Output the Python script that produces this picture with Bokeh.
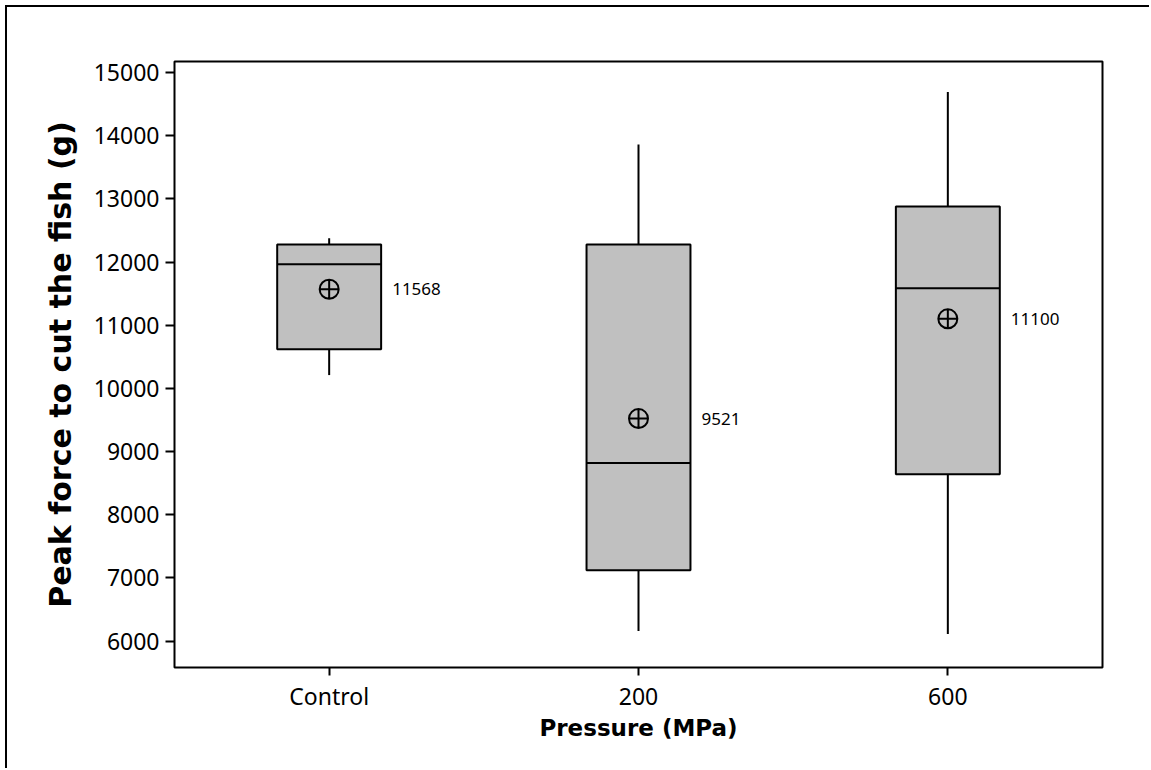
from bokeh.plotting import figure
from bokeh.models import FactorRange, Range1d, FixedTicker, ColumnDataSource
from bokeh.core.properties import value
from bokeh.transform import dodge
from bokeh.embed import file_html
from bokeh.resources import INLINE

# ---- data ----
groups = ["Control", "200", "600"]
whisker_low = [10210, 6160, 6110]
q1 = [10620, 7120, 8640]
median = [11965, 8820, 11585]
q3 = [12277, 12277, 12880]
whisker_high = [12377, 13860, 14690]
means = [11568, 9521, 11100]
mean_labels = ["11568", "9521", "11100"]
y_ticks = [6000, 7000, 8000, 9000, 10000, 11000, 12000, 13000, 14000, 15000]

src = ColumnDataSource(dict(g=groups, lo=whisker_low, q1=q1, med=median, q3=q3,
                            hi=whisker_high, mean=means, lab=mean_labels))

W, H = 1144, 763
SH = 7  # margin + border offset of the canvas
FRAME_W, FRAME_H = 928, 606
BOXW = 0.336
p = figure(x_range=FactorRange(*groups), y_range=Range1d(5581, 15174),
           width=W, height=H, output_backend="svg", toolbar_location=None,
           min_border_left=174 - SH, min_border_top=61 - SH,
           min_border_right=W - (174 - SH) - FRAME_W,
           min_border_bottom=H - (61 - SH) - FRAME_H)
p.styles = {"border-top": "2px solid black", "border-left": "2px solid black",
            "margin-left": "5px", "margin-top": "5px"}

p.background_fill_color = "white"
p.border_fill_color = "white"
p.outline_line_color = "black"
p.outline_line_width = 2
p.xgrid.grid_line_color = None
p.ygrid.grid_line_color = None

# whiskers
p.segment(x0="g", y0="q3", x1="g", y1="hi", source=src, line_color="black", line_width=2)
p.segment(x0="g", y0="q1", x1="g", y1="lo", source=src, line_color="black", line_width=2)
# boxes
p.vbar(x="g", top="q3", bottom="q1", width=BOXW, source=src,
       fill_color="#C0C0C0", line_color="black", line_width=2)
# medians
p.segment(x0=dodge("g", -BOXW / 2, range=p.x_range), y0="med",
          x1=dodge("g", BOXW / 2, range=p.x_range), y1="med",
          source=src, line_color="black", line_width=2)
# means
p.scatter(x="g", y="mean", source=src, marker="circle_cross", size=19,
          fill_color=None, line_color="black", line_width=2)
p.text(x="g", y="mean", text="lab", source=src, x_offset=63,
       text_align="left", text_baseline="middle",
       text_font=value("Noto Sans"), text_font_size="17px", text_color="black")

for ax in (p.xaxis[0], p.yaxis[0]):
    ax.axis_line_color = None
    ax.major_tick_in = 0
    ax.minor_tick_in = 0
    ax.minor_tick_out = 0
    ax.major_tick_line_color = "black"
    ax.major_tick_line_width = 2
    ax.major_label_text_font = "Noto Sans"
    ax.major_label_text_font_size = "23px"
    ax.major_label_text_color = "black"
    ax.axis_label_text_font = "DejaVu Sans"
    ax.axis_label_text_font_style = "bold"
    ax.axis_label_text_color = "black"

p.xaxis.major_tick_out = 8
p.xaxis.major_label_standoff = 4
p.xaxis.axis_label = "Pressure (MPa)"
p.xaxis.axis_label_standoff = 0
p.xaxis.axis_label_text_font_size = "23px"

p.yaxis.ticker = FixedTicker(ticks=y_ticks)
p.yaxis.major_tick_out = 9
p.yaxis.major_label_standoff = 6
p.yaxis.axis_label = "Peak force to cut the fish (g)"
p.yaxis.axis_label_standoff = 13
p.yaxis.axis_label_text_font_size = "30px"

open("out.html", "w").write(file_html(p, INLINE))
